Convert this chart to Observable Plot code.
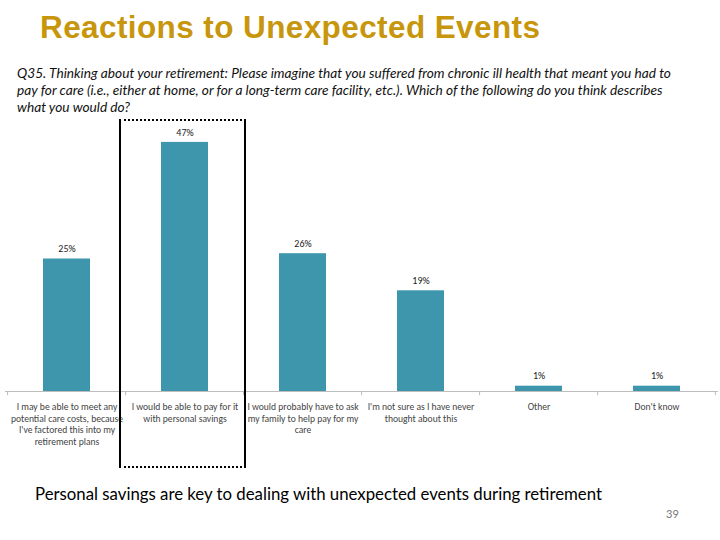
<!DOCTYPE html>
<html>
<head>
<meta charset="utf-8">
<script src="https://cdn.jsdelivr.net/npm/d3@7"></script>
<script src="https://cdn.jsdelivr.net/npm/@observablehq/plot@0.6"></script>
<style>
  html, body { margin: 0; padding: 0; background: #fff; }
  #page { position: relative; width: 720px; height: 540px; overflow: hidden; }
  #title { position: absolute; left: 40px; top: 9px; font-family: "Liberation Sans", Arial, sans-serif; font-weight: bold; font-size: 31.5px; color: #C8960C; letter-spacing: 0.4px; white-space: nowrap; }
  #question { position: absolute; left: 17px; top: 64px; font-family: Lato, "Open Sans", sans-serif; font-style: italic; font-size: 13.7px; line-height: 17px; color: #111; white-space: pre; z-index: 2; }
  #chart { position: absolute; left: 0; top: 110px; }
  #box { position: absolute; border-left: 2px solid #000; border-right: 2px solid #000; border-top: 2px dotted #000; border-bottom: 2px dotted #000; box-sizing: border-box; pointer-events: none; }
  #caption { position: absolute; left: 35px; top: 483px; font-family: Lato, "Open Sans", sans-serif; font-size: 16.8px; color: #000; white-space: nowrap; }
  #pagenum { position: absolute; left: 666px; top: 507px; font-family: Lato, "Open Sans", sans-serif; font-size: 11px; color: #777; }
</style>
</head>
<body>
<div id="page">
  <div id="title">Reactions to Unexpected Events</div>
  <div id="chart"></div>
  <div id="question">Q35. Thinking about your retirement: Please imagine that you suffered from chronic ill health that meant you had to
pay for care (i.e., either at home, or for a long-term care facility, etc.). Which of the following do you think describes
what you would do?</div>
  <div id="box"></div>
  <div id="caption">Personal savings are key to dealing with unexpected events during retirement</div>
  <div id="pagenum">39</div>
</div>
<script>
const categories = [
  "I may be able to meet any\npotential care costs, because\nI've factored this into my\nretirement plans",
  "I would be able to pay for it\nwith personal savings",
  "I would probably have to ask\nmy family to help pay for my\ncare",
  "I'm not sure as I have never\nthought about this",
  "Other",
  "Don't know"
];
const values = [25, 47, 26, 19, 1, 1];
const valueLabels = ["25%", "47%", "26%", "19%", "1%", "1%"];
const highlighted = 1;

const data = categories.map((c, i) => ({cat: c, value: values[i], label: valueLabels[i]}));

const W = 720, H = 360;
const mL = 5, mR = 2;
const nCat = categories.length;
const pIn = 0.6, pOut = 0.3;
const step = (W - mL - mR) / (nCat - pIn + 2 * pOut);
const labelFont = "Carlito, 'Liberation Sans Narrow', 'Arial Narrow', Lato, sans-serif";

const plot = Plot.plot({
  width: W,
  height: H,
  marginLeft: mL,
  marginRight: mR,
  marginTop: 16,
  marginBottom: 79,
  x: {domain: categories, paddingInner: pIn, paddingOuter: pOut, axis: null},
  y: {domain: [0, 50], axis: null},
  style: {background: "transparent"},
  marks: [
    Plot.barY(data, {x: "cat", y: "value", fill: "#3D96AB"}),
    Plot.ruleY([0], {stroke: "#bdbdbd", strokeWidth: 1.2}),
    Plot.ruleX(data, {x: "cat", dx: -step / 2, y1: 0, y2: -0.8, stroke: "#bdbdbd"}),
    Plot.ruleX(data.slice(-1), {x: "cat", dx: step / 2 - 1, y1: 0, y2: -0.8, stroke: "#bdbdbd"}),
    Plot.text(data, {x: "cat", y: "value", text: "label", dy: -10, fontSize: 10, fill: "#222", fontFamily: labelFont}),
    Plot.text(data, {x: "cat", y: 0, text: "cat", lineAnchor: "top", dy: 10, lineHeight: 1.22, fontSize: 9.6, fill: "#444", fontFamily: labelFont})
  ]
});
document.getElementById("chart").appendChild(plot);

// highlight box around the selected category, positioned from the scale
const xs = plot.scale("x");
const cx = xs.apply(categories[highlighted]) + xs.bandwidth / 2;
const box = document.getElementById("box");
const boxLeft = cx - step * 0.55;
const boxRight = cx + step * 0.52;
box.style.left = boxLeft + "px";
box.style.width = (boxRight - boxLeft) + "px";
box.style.top = "119px";
box.style.height = "349px";
</script>
</body>
</html>
